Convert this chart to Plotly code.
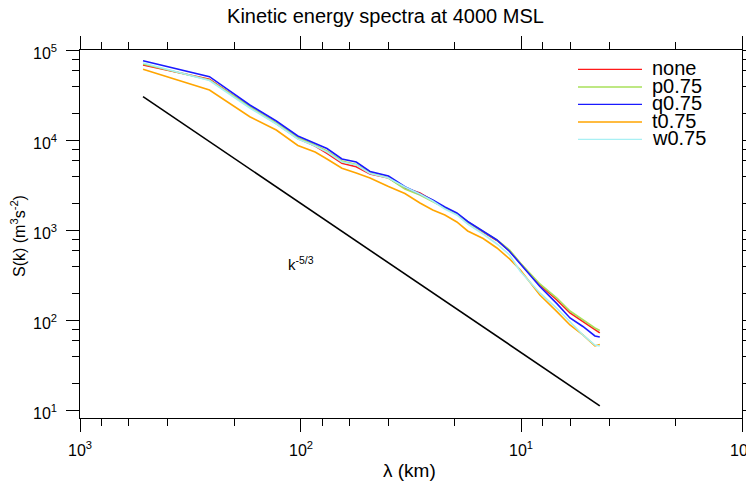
import math
import plotly.graph_objects as go

# wavelength (km) of the sampled spectral points
wavelength = [518, 259, 170, 129, 103, 86, 76, 65, 56, 48.5, 40, 33.7, 28.8, 25.2,
              22.2, 19.6, 17.5, 14.9, 12.9, 11.3, 10.1, 8.24, 6.9, 6.02, 5.26, 4.64, 4.41]

s_none = [69900, 48480, 23860, 15650, 10660, 8800, 7300, 5653, 5183, 4300, 3880, 3004,
          2644, 2154, 1801, 1545, 1259, 975, 784, 600, 435, 251, 171, 123, 97.5, 79.4, 73.6]
s_p075 = [71720, 47620, 24170, 15850, 10940, 9026, 7743, 5995, 5482, 4410, 3880, 2929,
          2512, 2127, 1778, 1545, 1259, 987, 794, 615, 441, 258, 180, 129, 102.6, 83.6, 78.4]
s_q075 = [78000, 51800, 25120, 16680, 11360, 9500, 8250, 6310, 5845, 4583, 4085, 3106,
          2578, 2210, 1848, 1585, 1275, 987, 794, 592, 430, 242, 156, 108, 86.9, 68.1, 66.4]
s_t075 = [62600, 36860, 18620, 13250, 8913, 7547, 6310, 4975, 4410, 3880, 3122, 2610,
          2047, 1711, 1506, 1259, 1000, 825, 647, 489, 369, 194, 127, 90.3, 69.9, 52.8, 54.8]
s_w075 = [73560, 47010, 23260, 15450, 10530, 8800, 7547, 5845, 5412, 4354, 3880, 3083,
          2578, 2154, 1756, 1506, 1196, 926, 717, 541, 355, 205, 138, 98.7, 69.9, 54.1, 52.8]

ref_x = [518, 4.41]
ref_y = [31060, 11.4]

names = ["none", "p0.75", "q0.75", "t0.75", "w0.75"]
colors = ["#FF1A1A", "#A8E05A", "#1A1AFF", "#FFA500", "#A8F0F4"]
series = [s_none, s_p075, s_q075, s_t075, s_w075]

x_major = [1000, 100, 10, 1]
x_major_text = ["10<sup>3</sup>", "10<sup>2</sup>", "10<sup>1</sup>", "10<sup>0</sup>"]
y_major = [10, 100, 1000, 10000, 100000]
y_major_text = ["10<sup>1</sup>", "10<sup>2</sup>", "10<sup>3</sup>", "10<sup>4</sup>", "10<sup>5</sup>"]
x_minor = [m * d for d in (1, 10, 100) for m in (2, 4, 6, 8)]
y_minor = [m * d for d in (10, 100, 1000, 10000) for m in (2, 4, 6, 8)]

FONT = "Liberation Sans, Arial, sans-serif"

# the page body has an 8px default margin: work in window pixels and compensate
OFF = 8
W, H = 754 - OFF, 487 - OFF
PL, PR, PT, PB = 80, 742, 50, 418          # plot box in window pixels
L, R, T, B = PL - OFF, W - (PR - OFF), PT - OFF, H - (PB - OFF)
pw, ph = W - L - R, H - T - B

def px(xp):
    return (xp - PL) / pw

def py(yp):
    return (PB - yp) / ph

fig = go.Figure()
for name, col, s in zip(names, colors, series):
    fig.add_trace(go.Scatter(x=wavelength, y=s, mode="lines", name=name,
                             line=dict(color=col, width=1.6), showlegend=False))
fig.add_trace(go.Scatter(x=ref_x, y=ref_y, mode="lines", line=dict(color="black", width=1.6),
                         showlegend=False))

# manual legend (matches the tight NCL-style legend)
leg_y = [69.3, 87, 104.3, 122, 139.3]
for name, col, yy in zip(names, colors, leg_y):
    fig.add_shape(type="line", xref="paper", yref="paper", x0=px(578), x1=px(642),
                  y0=py(yy), y1=py(yy), line=dict(color=col, width=1.3))
    fig.add_annotation(xref="paper", yref="paper", x=px(650), y=py(yy - 1), text=name,
                       showarrow=False, xanchor="left", yanchor="middle",
                       font=dict(family=FONT, size=20, color="black"))

# tick labels placed like the reference (NCL spacing)
for v, t in zip(x_major, x_major_text):
    fig.add_annotation(xref="x", yref="paper", x=math.log10(v), y=py(449), text=t,
                       showarrow=False, xanchor="center", yanchor="middle",
                       font=dict(family=FONT, size=16, color="black"))
for v, t in zip(y_major, y_major_text):
    fig.add_annotation(xref="paper", yref="y", x=px(59), y=math.log10(v), yshift=-1, text=t,
                       showarrow=False, xanchor="right", yanchor="middle",
                       font=dict(family=FONT, size=16, color="black"))

fig.add_annotation(xref="x", yref="y", x=2.0, y=2.644, text="k<sup>-5/3</sup>", showarrow=False,
                   font=dict(family=FONT, size=15, color="black"))

fig.add_annotation(xref="paper", yref="paper", x=px(18), y=py(236),
                   xanchor="center", yanchor="middle",
                   text="S(k) (m<sup>3</sup>s<sup>-2</sup>)",
                   textangle=-90, showarrow=False, font=dict(family=FONT, size=16, color="black"))
fig.add_annotation(xref="paper", yref="paper", x=px(409), y=py(470), text="λ (km)",
                   xanchor="center", yanchor="middle",
                   showarrow=False, font=dict(family=FONT, size=19, color="black"))

axis_common = dict(type="log", showgrid=False, zeroline=False, showline=True, linecolor="black",
                   linewidth=1, mirror="ticks", ticks="outside", ticklen=13, tickwidth=1,
                   tickcolor="black", automargin=False, showticklabels=False)

fig.update_xaxes(range=[3, 0], tickmode="array", tickvals=x_major,
                 minor=dict(tickmode="array", tickvals=x_minor, ticks="outside", ticklen=7,
                            tickcolor="black", tickwidth=1, showgrid=False),
                 **axis_common)
fig.update_yaxes(range=[0.922, 5.011], tickmode="array", tickvals=y_major,
                 minor=dict(tickmode="array", tickvals=y_minor, ticks="outside", ticklen=7,
                            tickcolor="black", tickwidth=1, showgrid=False),
                 **axis_common)

fig.update_layout(
    width=W, height=H,
    margin=dict(l=L, r=R, t=T, b=B, autoexpand=False),
    paper_bgcolor="white", plot_bgcolor="white",
    title=dict(text="Kinetic energy spectra at 4000 MSL", x=px(415), xanchor="center",
               y=1 - (16 - OFF) / H, yanchor="middle",
               font=dict(family=FONT, size=20, color="black")),
    showlegend=False,
)

fig.write_html("out.html")
